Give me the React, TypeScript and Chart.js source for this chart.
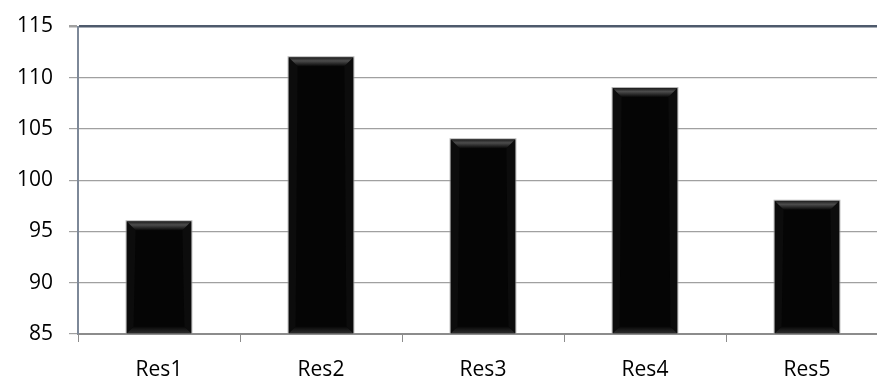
import React, { useEffect, useRef } from "react";
import { Chart, registerables } from "chart.js";

Chart.register(...registerables);

const categories = ["Res1", "Res2", "Res3", "Res4", "Res5"];
const values = [96, 112, 104, 109, 98];
const yMin = 85;
const yMax = 115;
const yStep = 5;

const FONT = "'Open Sans', sans-serif";

const bevelPlugin = {
  id: "bevel",
  afterDatasetsDraw(chart: any) {
    const ctx = chart.ctx as CanvasRenderingContext2D;
    const meta = chart.getDatasetMeta(0);
    const area = chart.chartArea;
    meta.data.forEach((bar: any) => {
      const p = bar.getProps(["x", "y", "base", "width"], true);
      const l = p.x - p.width / 2;
      const r = p.x + p.width / 2;
      const t = p.y;
      const b = Math.min(p.base, area.bottom);
      const bv = 9;
      const bb = 7;
      ctx.save();
      ctx.fillStyle = "#0c0c0c";
      ctx.beginPath();
      ctx.moveTo(l, t);
      ctx.lineTo(l + bv, t + bv);
      ctx.lineTo(l + bb, b - bb);
      ctx.lineTo(l, b);
      ctx.closePath();
      ctx.fill();
      ctx.beginPath();
      ctx.moveTo(r, t);
      ctx.lineTo(r - bv, t + bv);
      ctx.lineTo(r - bb, b - bb);
      ctx.lineTo(r, b);
      ctx.closePath();
      ctx.fill();
      const gt = ctx.createLinearGradient(0, t, 0, t + bv);
      gt.addColorStop(0, "#1c1c1c");
      gt.addColorStop(0.4, "#4c4c4c");
      gt.addColorStop(1, "#080808");
      ctx.fillStyle = gt;
      ctx.beginPath();
      ctx.moveTo(l, t);
      ctx.lineTo(r, t);
      ctx.lineTo(r - bv, t + bv);
      ctx.lineTo(l + bv, t + bv);
      ctx.closePath();
      ctx.fill();
      const gb = ctx.createLinearGradient(0, b - bb, 0, b);
      gb.addColorStop(0, "#060606");
      gb.addColorStop(1, "#2e2e2e");
      ctx.fillStyle = gb;
      ctx.beginPath();
      ctx.moveTo(l, b);
      ctx.lineTo(r, b);
      ctx.lineTo(r - bb, b - bb);
      ctx.lineTo(l + bb, b - bb);
      ctx.closePath();
      ctx.fill();
      ctx.strokeStyle = "rgba(150,150,150,0.7)";
      ctx.lineWidth = 1;
      ctx.strokeRect(l - 0.5, t - 0.5, p.width + 1, b - t + 1);
      ctx.restore();
    });
  },
};

export default function App() {
  const ref = useRef<HTMLCanvasElement>(null);
  useEffect(() => {
    const chart = new Chart(ref.current!, {
      type: "bar",
      data: {
        labels: categories,
        datasets: [
          {
            data: values,
            base: yMin,
            backgroundColor: "#050505",
            borderWidth: 0,
            barPercentage: 0.4,
            categoryPercentage: 1,
          },
        ],
      },
      options: {
        animation: false,
        responsive: false,
        layout: { padding: { top: 8, right: 12, left: 0, bottom: 0 } },
        plugins: { legend: { display: false }, tooltip: { enabled: false } },
        scales: {
          x: {
            offset: true,
            grid: {
              offset: true,
              drawOnChartArea: false,
              drawTicks: true,
              tickLength: 8,
              color: "#8c8c8c",
              lineWidth: 1,
            },
            border: { color: "#8c8c8c", width: 2 },
            ticks: {
              color: "#000",
              font: { family: FONT, size: 21, lineHeight: 1 },
              padding: 18,
            },
            afterFit(scale: any) {
              scale.height = 44;
            },
          },
          y: {
            min: yMin,
            max: yMax,
            ticks: {
              stepSize: yStep,
              color: "#000",
              font: { family: FONT, size: 21, lineHeight: 1 },
              padding: 16,
            },
            grid: {
              color: (c: any) => (c.tick && c.tick.value === yMax ? "#4e5a6c" : "#a0a0a0"),
              lineWidth: (c: any) => (c.tick && c.tick.value === yMax ? 2.5 : 1.2),
              tickLength: 9,
              tickColor: "#a0a0a0",
            },
            border: { color: "#7d8898", width: 2 },
            afterFit(scale: any) {
              scale.width = 78;
            },
          },
        },
      },
      plugins: [bevelPlugin],
    });
    return () => chart.destroy();
  }, []);
  return (
    <div style={{ position: "fixed", left: 0, top: 0, width: 877, height: 378, overflow: "hidden", background: "#fff" }}>
      <canvas ref={ref} width={900} height={378} style={{ display: "block" }} />
    </div>
  );
}
